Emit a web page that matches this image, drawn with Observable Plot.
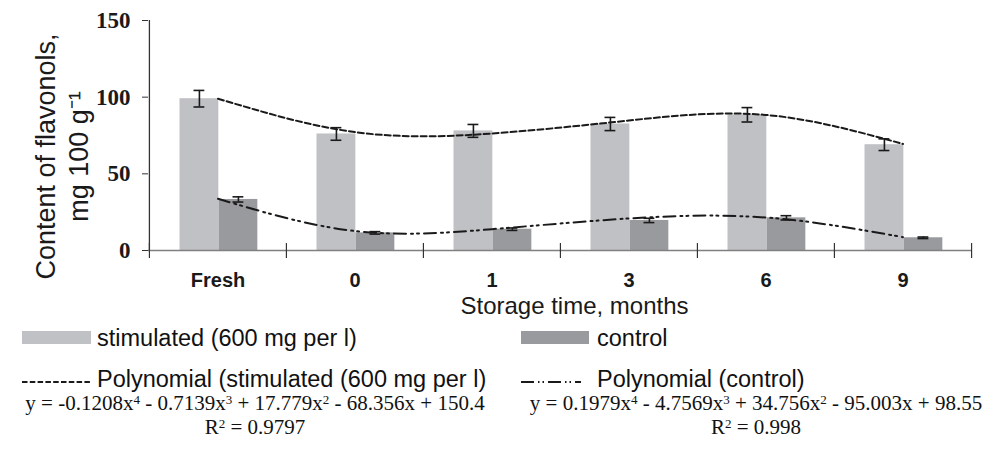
<!DOCTYPE html>
<html>
<head>
<meta charset="utf-8">
<script src="https://cdn.jsdelivr.net/npm/d3@7"></script>
<script src="https://cdn.jsdelivr.net/npm/@observablehq/plot@0.6"></script>
<style>
  html, body { margin: 0; padding: 0; background: #fff; }
  #wrap { position: relative; width: 991px; height: 459px; overflow: hidden; background: #fff; }
  #chart { position: absolute; left: 0; top: 0; }
  .lg { position: absolute; font-family: "Liberation Sans", Arial, sans-serif; font-size: 23.5px; line-height: 1; color: #111; white-space: nowrap; }
  .sw { position: absolute; height: 13px; }
  .eq { position: absolute; width: 500px; text-align: center; font-family: "Liberation Serif", "Times New Roman", serif; font-size: 21px; line-height: 1; color: #111; white-space: nowrap; }
  .eq sup { font-size: 0.62em; line-height: 0; vertical-align: 0.5em; }
  svg.lgline { position: absolute; overflow: visible; }
</style>
</head>
<body>
<div id="wrap">
  <div id="chart"></div>
</div>
<script>
// ---- data ----
const categories = ["Fresh", "0", "1", "3", "6", "9"];
const stimulated = [99, 76, 78, 82.5, 88.5, 69];
const stimulatedErr = [5.4, 4.1, 4.2, 4.3, 4.7, 3.8];
const control = [33.3, 11.5, 13.9, 19.6, 21.3, 8.3];
const controlErr = [1.7, 0.8, 0.8, 1.4, 1.4, 0.5];
const stimulatedTrend = [99.0, 77.2, 76.3, 84.8, 88.4, 69.5];
const controlTrend = [33.7, 12.7, 13.9, 20.9, 21.5, 8.7];
const yTicks = [0, 50, 100, 150];
const seriesNames = ["stimulated (600 mg per l)", "control"];
const trendNames = ["Polynomial (stimulated (600 mg per l)", "Polynomial (control)"];
const yTitle = "Content of flavonols,\nmg 100 g\u207B\u00B9";
const xTitle = "Storage time, months";
const equations = [
  ["y = -0.1208x<sup>4</sup> - 0.7139x<sup>3</sup> + 17.779x<sup>2</sup> - 68.356x + 150.4", "R<sup>2</sup> = 0.9797"],
  ["y = 0.1979x<sup>4</sup> - 4.7569x<sup>3</sup> + 34.756x<sup>2</sup> - 95.003x + 98.55", "R<sup>2</sup> = 0.998"]
];

const rows = categories.map((c, i) => ({
  cat: c,
  stim: stimulated[i], stimErr: stimulatedErr[i],
  ctrl: control[i], ctrlErr: controlErr[i],
  stimTrend: stimulatedTrend[i], ctrlTrend: controlTrend[i]
}));

// ---- layout ----
const W = 991, H = 320, mL = 148, mR = 20, mT = 20, mB = 70;
const bw = (W - mL - mR) / categories.length;
const barW = 39, padL = 30.5, capHalf = 5.5;
const stimC = padL + barW / 2;        // bar centre from band start
const ctrlC = padL + barW * 1.5;
const colStim = "#c0c1c5", colCtrl = "#999a9e", ink = "#1a1a1a";
const sans = "'Liberation Sans', Arial, sans-serif";
const serif = "'Liberation Serif', 'Times New Roman', serif";

const chart = Plot.plot({
  width: W, height: H,
  marginLeft: mL, marginRight: mR, marginTop: mT, marginBottom: mB,
  style: { fontFamily: sans, background: "white", color: ink },
  x: { type: "band", domain: categories, padding: 0, axis: null },
  y: { domain: [0, 150], axis: null },
  marks: [
    Plot.barY(rows, { x: "cat", y: "stim", fill: colStim, insetLeft: padL, insetRight: bw - padL - barW }),
    Plot.barY(rows, { x: "cat", y: "ctrl", fill: colCtrl, insetLeft: padL + barW, insetRight: bw - padL - 2 * barW }),
    // error bars
    Plot.ruleX(rows, { x: "cat", y1: d => d.stim - d.stimErr, y2: d => d.stim + d.stimErr, dx: stimC - bw / 2, stroke: ink, strokeWidth: 1.6 }),
    Plot.tickY(rows, { x: "cat", y: d => d.stim + d.stimErr, insetLeft: stimC - capHalf, insetRight: bw - stimC - capHalf, stroke: ink, strokeWidth: 1.6 }),
    Plot.tickY(rows, { x: "cat", y: d => d.stim - d.stimErr, insetLeft: stimC - capHalf, insetRight: bw - stimC - capHalf, stroke: ink, strokeWidth: 1.6 }),
    Plot.ruleX(rows, { x: "cat", y1: d => d.ctrl - d.ctrlErr, y2: d => d.ctrl + d.ctrlErr, dx: ctrlC - bw / 2, stroke: ink, strokeWidth: 1.6 }),
    Plot.tickY(rows, { x: "cat", y: d => d.ctrl + d.ctrlErr, insetLeft: ctrlC - capHalf, insetRight: bw - ctrlC - capHalf, stroke: ink, strokeWidth: 1.6 }),
    Plot.tickY(rows, { x: "cat", y: d => d.ctrl - d.ctrlErr, insetLeft: ctrlC - capHalf, insetRight: bw - ctrlC - capHalf, stroke: ink, strokeWidth: 1.6 }),
    // trend lines
    Plot.line(rows, { x: "cat", y: "stimTrend", curve: "natural", stroke: ink, strokeWidth: 2, strokeDasharray: "6,3" }),
    Plot.line(rows, { x: "cat", y: "ctrlTrend", curve: "natural", stroke: ink, strokeWidth: 2, strokeDasharray: "12,5,2,4,2,5" }),
    // axes
    Plot.ruleY([0], { stroke: "#808080", strokeWidth: 1.5 }),
    Plot.ruleX([categories[0]], { x: d => d, dx: -bw / 2, stroke: "#333", strokeWidth: 1.3 }),
    Plot.ruleX(categories, { x: d => d, dx: -bw / 2, insetTop: H - mT - mB - 7, insetBottom: -8, stroke: "#333", strokeWidth: 1.2 }),
    Plot.ruleX([categories[categories.length - 1]], { x: d => d, dx: bw / 2, insetTop: H - mT - mB - 7, insetBottom: -8, stroke: "#333", strokeWidth: 1.2 }),
    Plot.axisY({ ticks: yTicks, tickSize: 6, tickPadding: 12, stroke: "#333", fontSize: 23, fontWeight: "bold", fontFamily: serif, label: null }),
    Plot.axisX({ tickSize: 0, tickPadding: 22, fontSize: 20, fontWeight: "bold", fontFamily: sans, label: null }),
    // axis titles
    Plot.text([yTitle], { frameAnchor: "left", textAnchor: "middle", lineAnchor: "middle", rotate: -90, dx: 60 - mL, dy: 21, fontSize: 27, lineHeight: 1.22, fill: ink }),
    Plot.text([xTitle], { frameAnchor: "bottom", textAnchor: "middle", lineAnchor: "middle", dx: 14.5, dy: 55.5, fontSize: 24, fill: ink })
  ]
});
document.getElementById("chart").appendChild(chart);

// ---- legend & trendline equations (below the plot) ----
const wrap = document.getElementById("wrap");
function el(tag, cls, style, html) {
  const e = document.createElement(tag);
  if (cls) e.className = cls;
  Object.assign(e.style, style);
  if (html != null) e.innerHTML = html;
  wrap.appendChild(e);
  return e;
}
// row 1: bar swatches
el("div", "sw", { left: "22px", top: "331px", width: "69px", background: colStim });
el("div", "lg", { left: "97px", top: "327px" }, seriesNames[0]);
el("div", "sw", { left: "521px", top: "331px", width: "68px", background: colCtrl });
el("div", "lg", { left: "597px", top: "327px" }, seriesNames[1]);
// row 2: trend line samples
function lineSample(x, w, dash) {
  const ns = "http://www.w3.org/2000/svg";
  const s = document.createElementNS(ns, "svg");
  s.setAttribute("class", "lgline");
  s.setAttribute("width", w); s.setAttribute("height", 6);
  s.style.left = x + "px"; s.style.top = "378.5px";
  const l = document.createElementNS(ns, "line");
  l.setAttribute("x1", 0); l.setAttribute("x2", w);
  l.setAttribute("y1", 3); l.setAttribute("y2", 3);
  l.setAttribute("stroke", ink); l.setAttribute("stroke-width", 2);
  l.setAttribute("stroke-dasharray", dash);
  s.appendChild(l);
  wrap.appendChild(s);
}
lineSample(22, 70, "5.5,2.3");
el("div", "lg", { left: "97px", top: "368px" }, trendNames[0]);
lineSample(521, 60, "13,4,1.5,3,1.5,4");
el("div", "lg", { left: "597px", top: "368px" }, trendNames[1]);
// equations
const eqCentres = [255, 756];
equations.forEach((eq, i) => {
  el("div", "eq", { left: (eqCentres[i] - 250) + "px", top: "393px" }, eq[0]);
  el("div", "eq", { left: (eqCentres[i] - 250) + "px", top: "417px" }, eq[1]);
});
</script>
</body>
</html>
